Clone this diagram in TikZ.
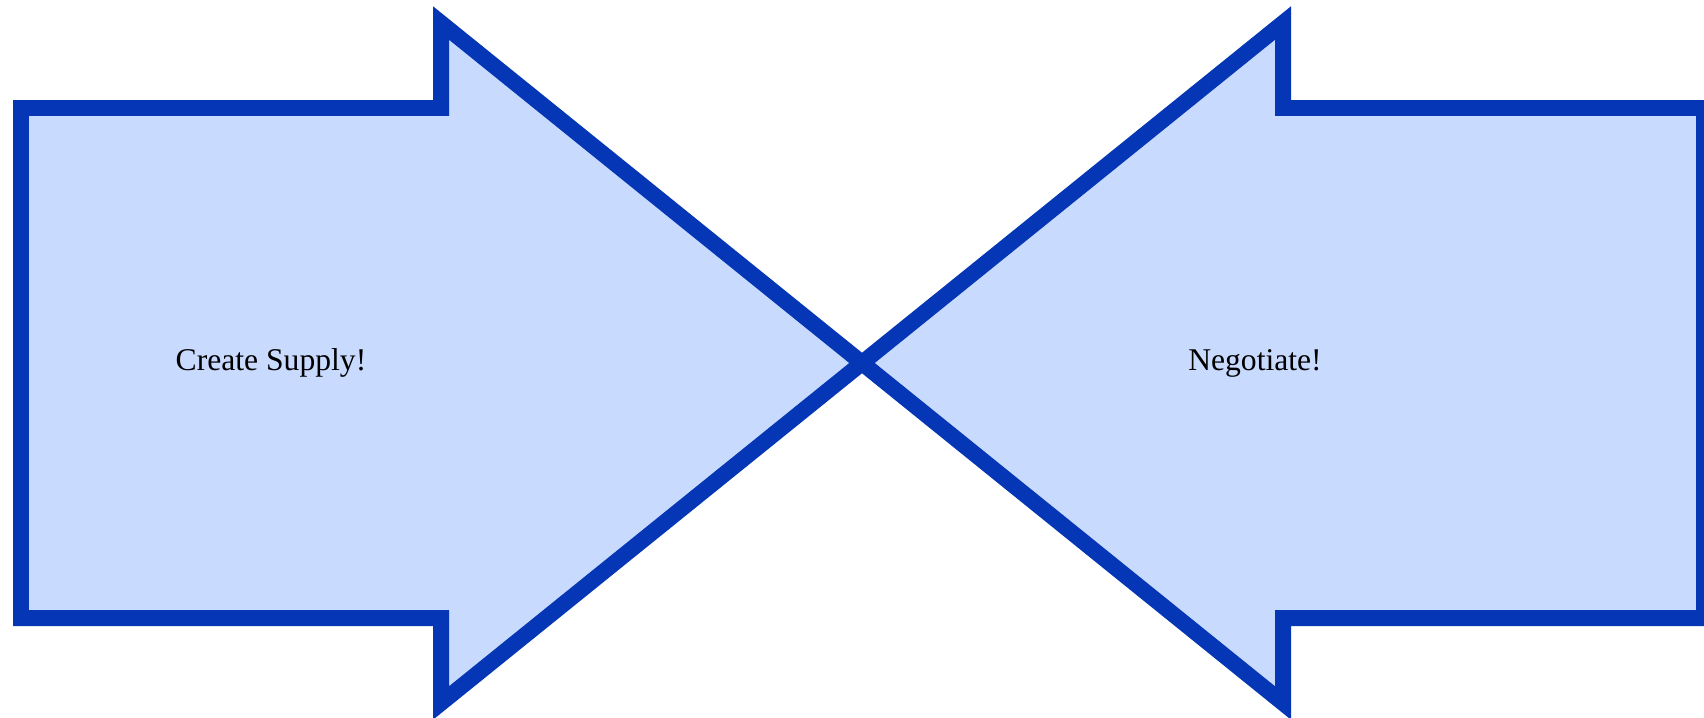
\documentclass[tikz,border=0pt]{standalone}
\usepackage{fontspec}
\setmainfont{Liberation Serif}
\usepackage{xcolor}
\usepackage{tikz}
\definecolor{arrline}{RGB}{4,54,181}
\definecolor{arrfill}{RGB}{201,218,255}
\tikzset{
  arr/.style ={draw=arrline, fill=arrfill, line width=4.55pt, line join=miter},
  lab/.style ={font=\fontsize{9}{11}\selectfont, inner sep=0pt, anchor=base},
}
\begin{document}
\begin{tikzpicture}[x=0.1mm,y=-0.1mm]
  \useasboundingbox (0,0) rectangle (1704,718);
  % left arrow, pointing right
  \draw[arr] (21,108) -- (441,108) -- (441,23) -- (862,363)
    -- (441,703) -- (441,618) -- (21,618) -- cycle;
  % right arrow, pointing left
  \draw[arr] (1704,108) -- (1283,108) -- (1283,23) -- (862,363)
    -- (1283,703) -- (1283,618) -- (1704,618) -- cycle;
  \node[lab] (supply) at (271,370) {Create Supply!};
  \node[lab] (negot) at (1255,370) {Negotiate!};
\end{tikzpicture}
\end{document}
